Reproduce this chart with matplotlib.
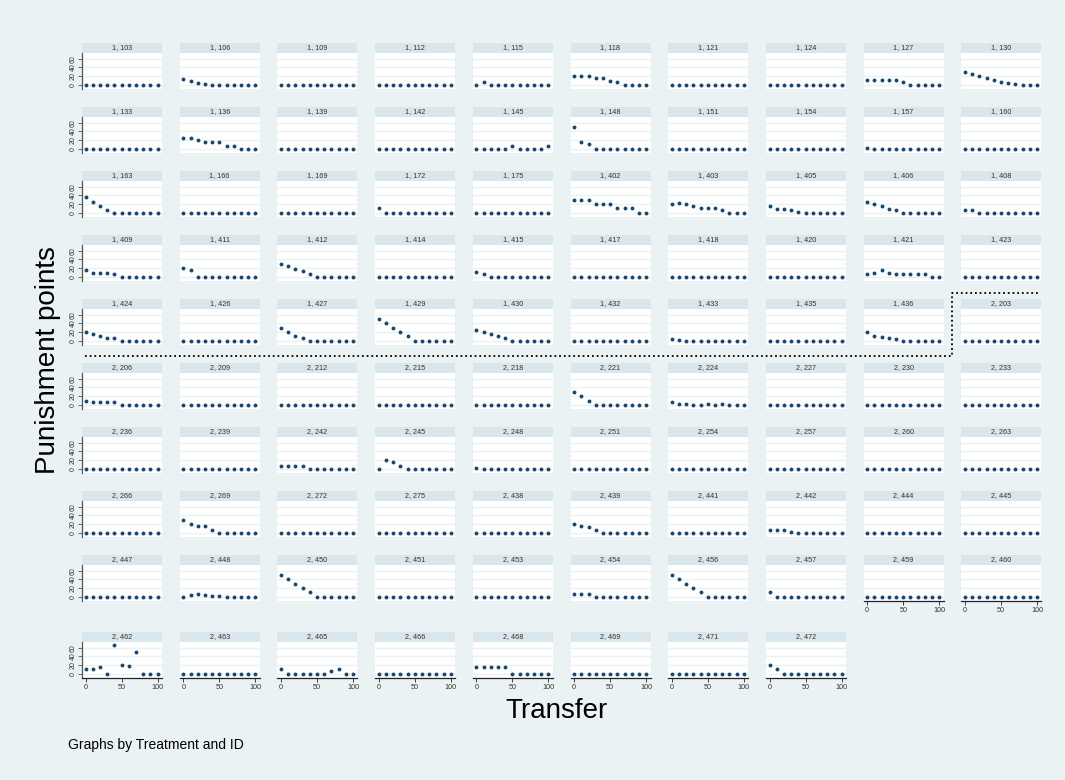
import matplotlib
matplotlib.use("Agg")
import matplotlib.pyplot as plt
from matplotlib.patches import Rectangle
from matplotlib.lines import Line2D

plt.rcParams['font.family'] = ['Liberation Sans', 'DejaVu Sans']

# ---------------- data ----------------
transfer = [0, 10, 20, 30, 40, 50, 60, 70, 80, 90, 100]
y_ticks = [0, 20, 40, 60]
x_ticks = [0, 50, 100]

treatment1_ids = [103, 106, 109, 112, 115, 118, 121, 124, 127, 130,
                  133, 136, 139, 142, 145, 148, 151, 154, 157, 160,
                  163, 166, 169, 172, 175, 402, 403, 405, 406, 408,
                  409, 411, 412, 414, 415, 417, 418, 420, 421, 423,
                  424, 426, 427, 429, 430, 432, 433, 435, 436]
Z = [0] * 11
treatment1_punishment = [
    Z, [12, 8, 3, 2, 0, 0, 0, 0, 0, 0, 0], Z, Z, [0, 5, 0, 0, 0, 0, 0, 0, 0, 0, 0],
    [20, 20, 20, 15, 15, 9, 5, 0, 0, 0, 0], Z, Z, [10, 10, 10, 10, 10, 5, 0, 0, 0, 0, 0],
    [30, 24, 19, 15, 10, 5, 3, 2, 0, 0, 0],
    Z, [25, 25, 20, 15, 15, 15, 5, 5, 0, 0, 0], Z, Z, [0, 0, 0, 0, 0, 5, 0, 0, 0, 0, 5],
    [50, 15, 10, 0, 0, 0, 0, 0, 0, 0, 0], Z, Z, [1, 0, 0, 0, 0, 0, 0, 0, 0, 0, 0], Z,
    [37, 25, 15, 5, 0, 0, 0, 0, 0, 0, 0], Z, Z, [10, 0, 0, 0, 0, 0, 0, 0, 0, 0, 0], Z,
    [30, 30, 30, 20, 20, 20, 10, 10, 10, 0, 0], [20, 23, 20, 15, 10, 10, 10, 7, 0, 0, 0],
    [16, 9, 9, 5, 1, 0, 0, 0, 0, 0, 0], [25, 20, 16, 9, 5, 0, 0, 0, 0, 0, 0],
    [5, 5, 0, 0, 0, 0, 0, 0, 0, 0, 0],
    [15, 9, 9, 9, 5, 0, 0, 0, 0, 0, 0], [20, 15, 0, 0, 0, 0, 0, 0, 0, 0, 0],
    [30, 24, 18, 12, 5, 0, 0, 0, 0, 0, 0], Z, [10, 5, 0, 0, 0, 0, 0, 0, 0, 0, 0], Z, Z, Z,
    [5, 9, 15, 9, 5, 5, 5, 5, 5, 0, 0], Z,
    [20, 15, 10, 6, 5, 0, 0, 0, 0, 0, 0], Z, [30, 20, 10, 5, 0, 0, 0, 0, 0, 0, 0],
    [50, 40, 30, 20, 10, 0, 0, 0, 0, 0, 0], [25, 20, 15, 10, 5, 0, 0, 0, 0, 0, 0], Z,
    [4, 2, 0, 0, 0, 0, 0, 0, 0, 0, 0], Z, [20, 10, 8, 6, 3, 0, 0, 0, 0, 0, 0],
]

treatment2_ids = [203,
                  206, 209, 212, 215, 218, 221, 224, 227, 230, 233,
                  236, 239, 242, 245, 248, 251, 254, 257, 260, 263,
                  266, 269, 272, 275, 438, 439, 441, 442, 444, 445,
                  447, 448, 450, 451, 453, 454, 456, 457, 459, 460,
                  462, 463, 465, 466, 468, 469, 471, 472]
treatment2_punishment = [
    Z,
    [8, 5, 5, 5, 5, 0, 0, 0, 0, 0, 0], Z, Z, Z, Z, [30, 19, 9, 0, 0, 0, 0, 0, 0, 0, 0],
    [5, 2, 2, 0, 0, 2, 0, 2, 0, 0, 0], Z, Z, Z,
    Z, Z, [5, 5, 5, 5, 0, 0, 0, 0, 0, 0, 0], [0, 20, 15, 5, 0, 0, 0, 0, 0, 0, 0],
    [2, 0, 0, 0, 0, 0, 0, 0, 0, 0, 0], Z, Z, Z, Z, Z,
    Z, [30, 20, 16, 16, 5, 0, 0, 0, 0, 0, 0], Z, Z, Z, [21, 16, 12, 5, 0, 0, 0, 0, 0, 0, 0],
    Z, [5, 5, 5, 2, 0, 0, 0, 0, 0, 0, 0], Z, Z,
    Z, [0, 4, 5, 3, 2, 2, 0, 0, 0, 0, 0], [50, 40, 30, 20, 10, 0, 0, 0, 0, 0, 0], Z, Z,
    [5, 5, 5, 0, 0, 0, 0, 0, 0, 0, 0], [50, 40, 30, 20, 10, 0, 0, 0, 0, 0, 0],
    [11, 0, 0, 0, 0, 0, 0, 0, 0, 0, 0], Z, Z,
    [11, 11, 16, 0, 65, 20, 17, 50, 0, 0, 0], Z, [11, 0, 0, 0, 0, 0, 0, 5, 11, 0, 0], Z,
    [16, 16, 16, 16, 16, 0, 0, 0, 0, 0, 0], Z, Z, [20, 11, 0, 0, 0, 0, 0, 0, 0, 0, 0],
]

# ---------------- layout ----------------
W, H = 1065, 780
BG = '#eaf2f3'
HDR = '#d9e6eb'
MARK = '#1a476f'
TXT = '#333333'

fig = plt.figure(figsize=(W / 100, H / 100), dpi=100)
fig.patch.set_facecolor(BG)

panels = [(1, i, v) for i, v in zip(treatment1_ids, treatment1_punishment)] + \
         [(2, i, v) for i, v in zip(treatment2_ids, treatment2_punishment)]
n = len(panels)
ncols = 10
col_left0, col_pitch, pw = 82, 97.7, 80
row_tops = [43 + 64 * r for r in range(9)] + [632]
hdr_h, plot_h = 10, 36

for k, (t, pid, vals) in enumerate(panels):
    r, c = divmod(k, ncols)
    left = col_left0 + c * col_pitch
    top = row_tops[r] + hdr_h
    ax = fig.add_axes([left / W, 1 - (top + plot_h) / H, pw / W, plot_h / H])
    ax.set_facecolor('white')
    ax.set_xlim(-5, 106)
    ax.set_ylim(-10, 73)
    for yv in y_ticks:
        ax.axhline(yv, color=BG, lw=1.0, zorder=0)
    ax.plot(transfer, vals, 'o', ms=2.8, color=MARK, mec=MARK, mew=0, zorder=3, clip_on=False)
    ax.add_patch(Rectangle((0, 1), 1, hdr_h / plot_h, transform=ax.transAxes,
                           clip_on=False, fc=HDR, ec='none'))
    ax.text(0.5, 1 + hdr_h / plot_h / 2, f"{t}, {pid}", transform=ax.transAxes,
            ha='center', va='center', fontsize=5.2, color=TXT)
    for s in ax.spines.values():
        s.set_visible(False)
    if c == 0:
        ax.spines['left'].set_visible(True)
        ax.spines['left'].set_color('#555555')
        ax.spines['left'].set_linewidth(0.9)
        ax.set_yticks(y_ticks)
        ax.set_yticklabels([str(v) for v in y_ticks])
        ax.tick_params(axis='y', length=3, width=0.6, color='#555555', pad=1,
                       labelsize=5, labelcolor=TXT)
        for lbl in ax.get_yticklabels():
            lbl.set_rotation(90)
            lbl.set_va('center')
            lbl.set_ha('right')
    else:
        ax.set_yticks([])
    if k + ncols >= n:
        ax.spines['bottom'].set_visible(True)
        ax.spines['bottom'].set_color('#222222')
        ax.spines['bottom'].set_linewidth(0.9)
        ax.set_xticks(x_ticks)
        ax.set_xticklabels([str(v) for v in x_ticks])
        ax.tick_params(axis='x', length=3, width=0.6, color='#222222', pad=1,
                       labelsize=5.2, labelcolor=TXT)
    else:
        ax.set_xticks([])

# dotted separator between treatments
def fx(x):
    return x / W

def fy(y):
    return 1 - y / H

sep_x = [85, 952, 952, 1040]
sep_y = [356, 356, 293, 293]
fig.add_artist(Line2D([fx(x) for x in sep_x], [fy(y) for y in sep_y],
                      transform=fig.transFigure, color='black', lw=1.3,
                      ls=(0, (1, 1.6))))

fig.text(fx(48), fy(360), 'Punishment points', rotation=90, fontsize=20,
         ha='center', va='center', color='black')
fig.text(fx(556), fy(711), 'Transfer', fontsize=20, ha='center', va='center', color='black')
fig.text(fx(68), fy(745), 'Graphs by Treatment and ID', fontsize=10, ha='left',
         va='center', color='black')

fig.savefig('out.png', dpi=100, facecolor=fig.get_facecolor())
